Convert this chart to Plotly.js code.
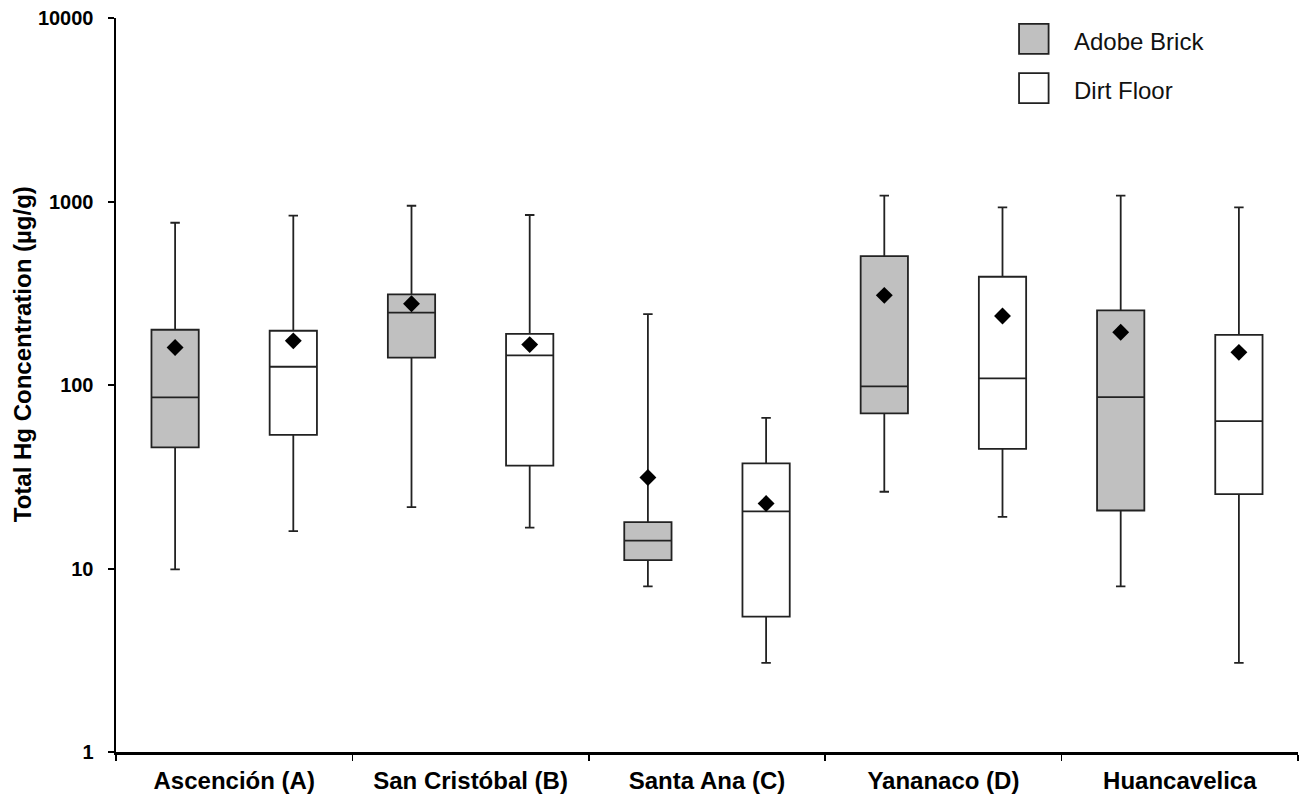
<!DOCTYPE html>
<html>
<head>
<meta charset="utf-8">
<script src="https://cdn.plot.ly/plotly-3.0.1.min.js"></script>
<style>
  html, body { margin: 0; padding: 0; background: #fff; }
  #chart { width: 1299px; height: 797px; }
</style>
</head>
<body>
<div id="chart"></div>
<script>
// ---- Data (µg/g) ----
var categories = ["Ascención (A)", "San Cristóbal (B)", "Santa Ana (C)", "Yananaco (D)", "Huancavelica"];

// Adobe Brick
var adobeLower  = [9.9, 21.6, 8.0, 26.2, 8.0];
var adobeQ1     = [45.7, 141, 11.1, 70, 20.7];
var adobeMedian = [85.6, 248, 14.2, 98.3, 85.9];
var adobeQ3     = [200, 312, 17.9, 504, 255];
var adobeUpper  = [766, 948, 243.5, 1076, 1076];
var adobeMean   = [160, 277, 31.3, 308, 194];

// Dirt Floor
var dirtLower  = [16.0, 16.7, 3.06, 19.1, 3.06];
var dirtQ1     = [53.5, 36.4, 5.47, 44.9, 25.4];
var dirtMedian = [125.7, 145, 20.5, 108.6, 63.6];
var dirtQ3     = [197.5, 190, 37.4, 389, 187.8];
var dirtUpper  = [837, 844, 66.2, 930, 930];
var dirtMean   = [174, 166, 22.6, 237.5, 150.6];

var seriesNames = ["Adobe Brick", "Dirt Floor"];
var yTickVals = [1, 10, 100, 1000, 10000];
var yTickText = ["1", "10", "100", "1000", "10000"];
var yTitle = "Total Hg Concentration (µg/g)";

// ---- Styles ----
var FONT = "Liberation Sans, Arial, Helvetica, sans-serif";
var LINE = "#222222";
var GRAY = "#c0c0c0";
var groupOffset = 0.25; // half of each category slot per group (boxgap 0)

function boxTrace(name, fill, lo, q1, med, q3, hi) {
  return {
    type: "box",
    name: name,
    x: categories,
    lowerfence: lo,
    q1: q1,
    median: med,
    q3: q3,
    upperfence: hi,
    boxpoints: false,
    fillcolor: fill,
    line: { color: LINE, width: 1.8 },
    whiskerwidth: 0.2,
    hoverinfo: "y",
    showlegend: false
  };
}

function meanTrace(name, means, sign) {
  return {
    type: "scatter",
    mode: "markers",
    name: name + " mean",
    xaxis: "x2",
    x: categories.map(function (c, i) { return i + sign * groupOffset; }),
    y: means,
    marker: { symbol: "diamond", size: 13, color: "#000000", line: { width: 0 } },
    showlegend: false,
    hoverinfo: "y"
  };
}

var data = [
  boxTrace(seriesNames[0], GRAY, adobeLower, adobeQ1, adobeMedian, adobeQ3, adobeUpper),
  boxTrace(seriesNames[1], "#ffffff", dirtLower, dirtQ1, dirtMedian, dirtQ3, dirtUpper),
  meanTrace(seriesNames[0], adobeMean, -1),
  meanTrace(seriesNames[1], dirtMean, 1)
];

// Legend drawn as layout shapes + text (large square swatches like the reference)
var legendX0 = 0.764, legendX1 = 0.789, legendTextX = 0.809;
var legendRows = [
  { name: seriesNames[0], fill: GRAY, y0: 0.951, y1: 0.992 },
  { name: seriesNames[1], fill: "#ffffff", y0: 0.884, y1: 0.925 }
];
var shapes = legendRows.map(function (r) {
  return {
    type: "rect", xref: "paper", yref: "paper",
    x0: legendX0, x1: legendX1, y0: r.y0, y1: r.y1,
    fillcolor: r.fill, line: { color: LINE, width: 1.8 }
  };
});
var annotations = legendRows.map(function (r) {
  return {
    xref: "paper", yref: "paper",
    x: legendTextX, y: (r.y0 + r.y1) / 2 - 0.003,
    xanchor: "left", yanchor: "middle",
    text: r.name, showarrow: false,
    font: { family: FONT, size: 24, color: "#111111" }
  };
});
// y-axis title (placed as in the reference, slightly above the axis centre)
annotations.push({
  xref: "paper", yref: "paper",
  x: -0.0795, y: 0.542,
  xanchor: "center", yanchor: "middle",
  textangle: -90,
  text: "<b>" + yTitle + "</b>", showarrow: false,
  font: { family: FONT, size: 24, color: "#000000" }
});

var layout = {
  width: 1299,
  height: 797,
  margin: { l: 116, r: 1, t: 18, b: 45, pad: 0 },
  paper_bgcolor: "#ffffff",
  plot_bgcolor: "#ffffff",
  font: { family: FONT, color: "#000000" },
  showlegend: false,
  boxmode: "group",
  boxgap: 0,
  boxgroupgap: 0.6,
  xaxis: {
    type: "category",
    range: [-0.5, 4.5],
    tickson: "boundaries",
    ticks: "outside",
    ticklen: 6,
    tickwidth: 1.5,
    tickcolor: "#000000",
    ticklabelstandoff: 6,
    showline: true,
    linecolor: "#000000",
    linewidth: 2.5,
    showgrid: false,
    zeroline: false,
    tickfont: { family: FONT, size: 24, weight: "bold", color: "#000000" },
    fixedrange: true
  },
  xaxis2: {
    overlaying: "x",
    range: [-0.5, 4.5],
    visible: false,
    fixedrange: true
  },
  yaxis: {
    type: "log",
    range: [0, 4],
    tickvals: yTickVals,
    ticktext: yTickText,
    ticks: "outside",
    ticklen: 6,
    tickwidth: 2,
    tickcolor: "#000000",
    ticklabelstandoff: 10,
    showline: true,
    linecolor: "#000000",
    linewidth: 2.5,
    showgrid: false,
    zeroline: false,
    tickfont: { family: FONT, size: 20, weight: "bold", color: "#000000" },
    fixedrange: true
  },
  shapes: shapes,
  annotations: annotations
};

Plotly.newPlot("chart", data, layout, { displayModeBar: false, staticPlot: true });
</script>
</body>
</html>
